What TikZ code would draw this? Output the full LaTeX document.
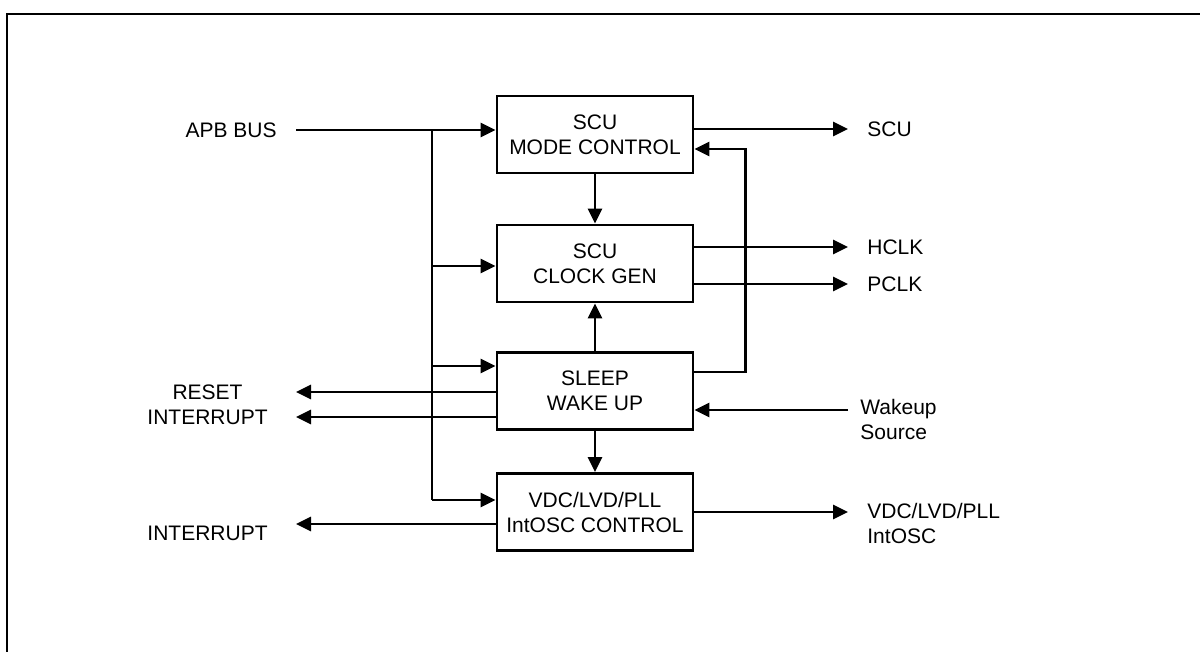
\documentclass[tikz,border=0pt]{standalone}
\usepackage{fontspec}
\setmainfont{Liberation Sans}
\usetikzlibrary{arrows.meta, positioning}

\begin{document}
\begin{tikzpicture}[x=1pt, y=-1pt, >={Triangle[length=15pt, width=14pt]},
    line width=2.8pt,
    font=\fontsize{21}{25}\selectfont,
    block/.style={draw, minimum width=196pt, minimum height=77pt, align=center, inner sep=0pt},
    lbl/.style={inner sep=0pt}]
    \useasboundingbox (0,0) rectangle (1200,652);

    % Outer frame (only top and left edges show)
    \draw[line width=2.2pt] (7,652) -- (7,14) -- (1200,14);

    % Blocks
    \node[block] (mode) at (595,134.5) {SCU\\MODE CONTROL};
    \node[block] (clk) at (595,263.5) {SCU\\CLOCK GEN};
    \node[block] (sleep) at (595,391) {SLEEP\\WAKE UP};
    \node[block] (vdc) at (595,512) {VDC/LVD/PLL\\IntOSC CONTROL};

    % Pin ends and bus taps
    \coordinate (pApb) at (296,130);
    \coordinate (bTop) at (432,130);
    \coordinate (bClk) at (432,266);
    \coordinate (bSleep) at (432,366);
    \coordinate (bVdc) at (432,500);
    \coordinate (pScu) at (848,129);
    \coordinate (pHclk) at (848,247);
    \coordinate (pPclk) at (848,284);
    \coordinate (pRst) at (296,392);
    \coordinate (pInt) at (296,417);
    \coordinate (pWake) at (848,410);
    \coordinate (pIntB) at (296,524);
    \coordinate (pVdc) at (848,512);
    \coordinate (fbIn) at (mode.east |- 0,149);

    % Labels
    \node[lbl, anchor=east] (apbTxt) at (278,130) {APB BUS};
    \node[lbl, anchor=west] (scuTxt) at (866,129) {SCU};
    \node[lbl, anchor=west] (hclkTxt) at (866,247) {HCLK};
    \node[lbl, anchor=west] (pclkTxt) at (866,284) {PCLK};
    \node[lbl, anchor=east, align=center] (rstTxt) at (269,404.5) {RESET\\INTERRUPT};
    \node[lbl, anchor=west, align=left] (wakeTxt) at (859,419) {Wakeup\\Source};
    \node[lbl, anchor=east] (intTxt) at (269,533) {INTERRUPT};
    \node[lbl, anchor=west, align=left] (vdcTxt) at (866,523.5) {VDC/LVD/PLL\\IntOSC};

    % APB bus and its taps
    \draw[->] (pApb) -- (mode.west |- pApb);
    \draw (bTop) -- (bVdc);
    \draw[->] (bClk) -- (clk.west |- bClk);
    \draw[->] (bSleep) -- (sleep.west |- bSleep);
    \draw[->] (bVdc) -- (vdc.west |- bVdc);

    % Between blocks
    \draw[->] (mode.south) -- (clk.north);
    \draw[->] (sleep.north) -- (clk.south);
    \draw[->] (sleep.south) -- (vdc.north);
    \draw[->] (sleep.east |- 0,372) -| ([xshift=51pt]fbIn) -- (fbIn);

    % Outputs and inputs
    \draw[->] (mode.east |- pScu) -- (pScu);
    \draw[->] (clk.east |- pHclk) -- (pHclk);
    \draw[->] (clk.east |- pPclk) -- (pPclk);
    \draw[->] (sleep.west |- pRst) -- (pRst);
    \draw[->] (sleep.west |- pInt) -- (pInt);
    \draw[->] (pWake) -- (sleep.east |- pWake);
    \draw[->] (vdc.west |- pIntB) -- (pIntB);
    \draw[->] (vdc.east |- pVdc) -- (pVdc);
\end{tikzpicture}
\end{document}
